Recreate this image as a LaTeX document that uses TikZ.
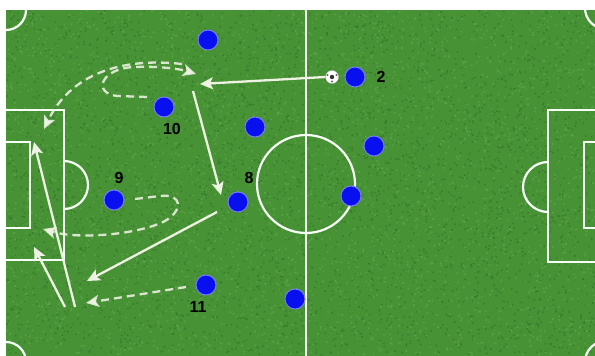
\documentclass[tikz,border=0pt]{standalone}
\usepackage{fontspec}
\setmainfont{Liberation Sans}
\usetikzlibrary{arrows.meta,calc}
\definecolor{grass}{RGB}{72,146,54}
\definecolor{grassdark}{RGB}{44,110,36}
\definecolor{grasslight}{RGB}{104,176,80}
\definecolor{chalk}{RGB}{238,242,226}
\definecolor{pblue}{RGB}{8,16,240}
\begin{document}
\begin{tikzpicture}[x=1pt,y=-1pt,
  player/.style={circle,fill=pblue,draw=pblue!55!white,line width=1pt,minimum size=20pt,inner sep=0pt},
  num/.style={font=\bfseries\fontsize{16}{16}\selectfont,text=black,inner sep=0pt},
  fieldline/.style={draw=white!96!green,line width=2.2pt},
  run/.style={draw=chalk,line width=2.3pt,-{Stealth[length=13pt,width=12pt,inset=3pt]}},
  dashrun/.style={run,draw opacity=0.88,dash pattern=on 8pt off 5pt},
  ballstyle/.style={circle,fill=white,draw=gray!60,line width=0.4pt,minimum size=13pt,inner sep=0pt},
]
\useasboundingbox (0,0) rectangle (595,356);
\fill[white] (0,0) rectangle (595,356);
\fill[grass] (6,10) rectangle (595,356);
\pgfmathsetseed{11}
\fill[grassdark,opacity=0.55] foreach \k in {1,...,3500} {(6+589*rnd,10+344*rnd) rectangle ++(1.6,1.6)};
\fill[grasslight,opacity=0.5] foreach \k in {1,...,3000} {(6+589*rnd,10+344*rnd) rectangle ++(1.6,1.6)};
\begin{scope}
  \clip (6,10) rectangle (595,356);
  % halfway line and centre circle
  \draw[fieldline] (306,0) -- (306,360);
  \draw[fieldline] (306,184) circle[radius=49];
  % corner arcs
  \draw[fieldline] (6,10) circle[radius=20];
  \draw[fieldline] (6,362) circle[radius=20];
  \draw[fieldline] (606,8) circle[radius=21];
  \draw[fieldline] (606,362) circle[radius=21];
  % left boxes
  \draw[fieldline] (0,110) -- (64,110) -- (64,260) -- (0,260);
  \draw[fieldline] (0,142) -- (30,142) -- (30,228) -- (0,228);
  \draw[fieldline] (64,161) arc[start angle=-90,end angle=90,radius=24];
  % right boxes
  \draw[fieldline] (600,110) -- (548,110) -- (548,262) -- (600,262);
  \draw[fieldline] (600,142) -- (584,142) -- (584,228) -- (600,228);
  \draw[fieldline] (548,162) arc[start angle=-90,end angle=-270,radius=25];
\end{scope}

% players
\node[player] (p1)  at (208,40)  {};
\node[player] (p10) at (164,107) {};
\node[player] (p6)  at (255,127) {};
\node[player] (p2)  at (355,77)  {};
\node[player] (p4)  at (374,146) {};
\node[player] (p5)  at (351,196) {};
\node[player] (p8)  at (238,202) {};
\node[player] (p9)  at (114,200) {};
\node[player] (p11) at (206,285) {};
\node[player] (p3)  at (295,299) {};

% numbers
\node[num] (l10) at (172,129) {10};
\node[num] (l2)  at (381,77)  {2};
\node[num] (l8)  at (249,178) {8};
\node[num] (l9)  at (119,178) {9};
\node[num] (l11) at (198,307) {11};

% ball
\node[ballstyle] (ball) at (332,77) {};
\fill[black!80] (ball.center) circle[radius=2.2];
\fill[black!60] ($(ball.center)+(-4.5,-2)$) circle[radius=1.2];
\fill[black!60] ($(ball.center)+(4.5,-2)$) circle[radius=1.2];
\fill[black!60] ($(ball.center)+(0,4.5)$) circle[radius=1.2];

% coordinates for free ends
\coordinate (passEnd) at (200,84);
\coordinate (inA) at (147,97);
\coordinate (inB) at (196,74);
\coordinate (outA) at (182,64);
\coordinate (outB) at (44,129);
\coordinate (runA) at (193,91);
\coordinate (runB) at (221,195);
\coordinate (crossA) at (217,212);
\coordinate (crossB) at (87,281);
\coordinate (elevA) at (186,287);
\coordinate (elevB) at (86,303);
\coordinate (nineA) at (135,199);
\coordinate (nineB) at (43,229);
\coordinate (lowA) at (65,307);
\coordinate (lowB) at (34,247);
\coordinate (farA) at (75,307);
\coordinate (farB) at (34,142);

% moves
\draw[run] (ball.west) -- (passEnd);
\draw[dashrun] (inA) -- (118,96) .. controls (92,94) and (100,68) .. (135,67) .. controls (160,66) and (180,69) .. (inB);
\draw[dashrun] (outA) .. controls (120,57) and (70,75) .. (outB);
\draw[run] (runA) -- (runB);
\draw[run] (crossA) -- (crossB);
\draw[dashrun] (elevA) -- (elevB);
\draw[dashrun] (nineA) -- (160,196) .. controls (182,193) and (184,210) .. (165,221) .. controls (140,234) and (80,240) .. (nineB);
\draw[run] (lowA) -- (lowB);
\draw[run] (farA) -- (farB);
\end{tikzpicture}
\end{document}
